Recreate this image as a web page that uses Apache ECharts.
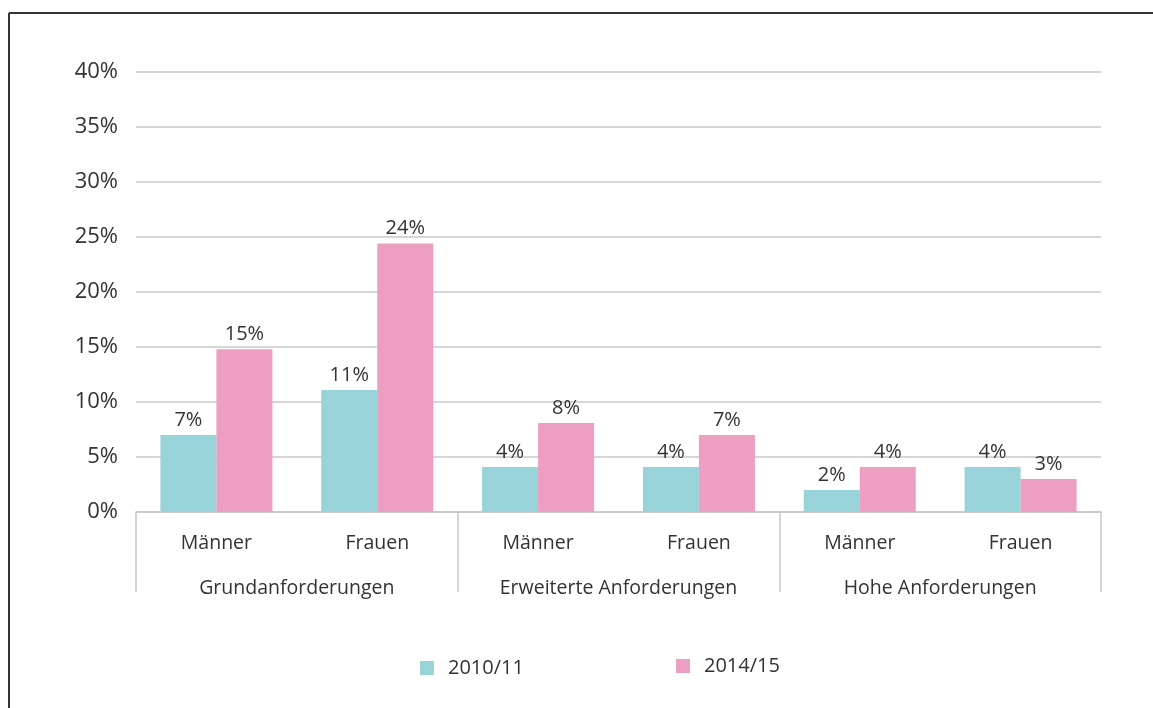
<!DOCTYPE html>
<html><head><meta charset="utf-8">
<script src="https://cdn.jsdelivr.net/npm/echarts@6/dist/echarts.min.js"></script>
<style>html,body{margin:0;padding:0;background:#fff}#c{width:1153px;height:708px}</style>
</head><body><div id="c"></div>
<script>
const subCategories = ['Männer','Frauen','Männer','Frauen','Männer','Frauen'];
const groups = ['Grundanforderungen','Erweiterte Anforderungen','Hohe Anforderungen'];
const seriesNames = ['2010/11','2014/15'];
const values2010 = [7.0, 11.1, 4.1, 4.1, 2.0, 4.1];
const values2014 = [14.8, 24.4, 8.1, 7.0, 4.1, 3.0];
const labels2010 = ['7%','11%','4%','4%','2%','4%'];
const labels2014 = ['15%','24%','8%','7%','4%','3%'];

const FONT = 'Open Sans';
const chart = echarts.init(document.getElementById('c'));
const lbl = (arr) => ({show:true, position:'top', distance:5, color:'#333', fontSize:20, fontFamily:FONT,
  formatter: p => arr[p.dataIndex]});
const legendText = {color:'#333', fontSize:20, fontFamily:FONT, padding:[0,0,0,9]};
chart.setOption({
  animation:false,
  textStyle:{fontFamily:FONT},
  grid:{left:136, right:52, top:72, bottom:196},
  xAxis:[
    {type:'category', data:subCategories, position:'bottom',
     axisLine:{show:true, lineStyle:{color:'#c8c8c8', width:1.5}},
     axisTick:{show:false},
     axisLabel:{color:'#333', fontSize:19.5, fontFamily:FONT, margin:21}},
    {type:'category', data:groups, position:'bottom', offset:0,
     axisLine:{show:false},
     axisTick:{show:true, length:80, lineStyle:{color:'#c8c8c8', width:1.5}},
     axisLabel:{color:'#333', fontSize:19.5, fontFamily:FONT, margin:66}}
  ],
  yAxis:{type:'value', min:0, max:40, interval:5,
    axisLine:{show:false}, axisTick:{show:false},
    splitLine:{lineStyle:{color:'#c8c8c8', width:1.5}},
    axisLabel:{color:'#333', fontSize:22, fontFamily:FONT, margin:18, formatter:v=>v+'%'}},
  legend:[
    {top:653, left:415, itemWidth:14, itemHeight:14, icon:'rect', textStyle:legendText, data:[seriesNames[0]]},
    {top:651, left:671, itemWidth:14, itemHeight:14, icon:'rect', textStyle:legendText, data:[seriesNames[1]]}
  ],
  series:[
    {name:seriesNames[0], type:'bar', data:values2010, barWidth:56, barGap:'0%',
     itemStyle:{color:'#97d3d9'}, label:lbl(labels2010)},
    {name:seriesNames[1], type:'bar', data:values2014, barWidth:56, barGap:'0%',
     itemStyle:{color:'#ed9ec3'}, label:lbl(labels2014)}
  ],
  graphic:[
    {type:'line', shape:{x1:9, y1:13, x2:1153, y2:13}, style:{stroke:'#333', lineWidth:2}},
    {type:'line', shape:{x1:9, y1:13, x2:9, y2:708}, style:{stroke:'#333', lineWidth:2}}
  ]
});
</script></body></html>
